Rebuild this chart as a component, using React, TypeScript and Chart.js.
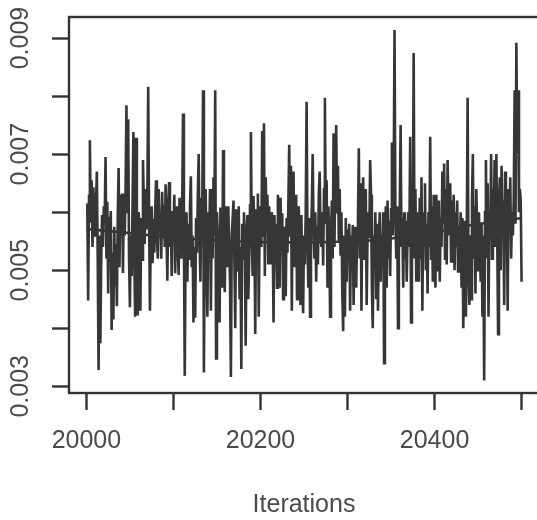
import React, { useEffect, useRef } from "react";
import { Chart, registerables } from "chart.js";

Chart.register(...registerables);

// MCMC trace values (iterations 20001..20500)
const traceValues: number[] = [
  0.00615, 0.00448, 0.00628, 0.00724, 0.00582, 0.00655, 0.0054, 0.00643, 0.00601, 0.0056,
  0.00612, 0.0067, 0.0052, 0.00328, 0.0056, 0.00374, 0.00515, 0.00595, 0.0054, 0.0061,
  0.00585, 0.00695, 0.0052, 0.00618, 0.0046, 0.00592, 0.00548, 0.00602, 0.00397, 0.0053,
  0.00415, 0.00575, 0.00472, 0.00545, 0.00438, 0.0059, 0.00676, 0.00505, 0.0063, 0.0056,
  0.00632, 0.00495, 0.00628, 0.0056, 0.0064, 0.00784, 0.00598, 0.0076, 0.0052, 0.00436,
  0.0056, 0.0049, 0.00612, 0.00738, 0.0052, 0.0042, 0.00728, 0.0055, 0.00422, 0.006,
  0.00575, 0.0043, 0.0059, 0.00518, 0.0069, 0.0061, 0.00545, 0.0064, 0.0057, 0.00625,
  0.00816, 0.0059, 0.0043, 0.00575, 0.0061, 0.00512, 0.00588, 0.0053, 0.006, 0.00655,
  0.0056, 0.0052, 0.0064, 0.00575, 0.00598, 0.0052, 0.00635, 0.0056, 0.00612, 0.0054,
  0.00648, 0.0056, 0.00482, 0.0061, 0.00652, 0.0054, 0.00585, 0.0049, 0.00602, 0.0056,
  0.0063, 0.00495, 0.00575, 0.0061, 0.0054, 0.00492, 0.00625, 0.0056, 0.0052, 0.006,
  0.0077, 0.0056, 0.00318, 0.00545, 0.006, 0.0048, 0.0058, 0.0052, 0.0061, 0.00662,
  0.00505, 0.0056, 0.0041, 0.0054, 0.00418, 0.0059, 0.0053, 0.0063, 0.007, 0.0055,
  0.0048, 0.00625, 0.0057, 0.0081, 0.00324, 0.0058, 0.0064, 0.00515, 0.0042, 0.006,
  0.00545, 0.0064, 0.0043, 0.0059, 0.0052, 0.0066, 0.0056, 0.0081, 0.00348, 0.006,
  0.0056, 0.00525, 0.0041, 0.00608, 0.00545, 0.0047, 0.00707, 0.0056, 0.00462, 0.0061,
  0.0058, 0.00505, 0.0061, 0.0054, 0.0048, 0.00316, 0.0056, 0.0059, 0.0062, 0.0052,
  0.004, 0.00605, 0.0056, 0.00498, 0.0061, 0.0045, 0.0054, 0.0033, 0.0058, 0.0052,
  0.006, 0.00545, 0.0037, 0.0056, 0.00595, 0.0045, 0.0052, 0.00612, 0.00738, 0.0056,
  0.0049, 0.00628, 0.0056, 0.0039, 0.00605, 0.00535, 0.00632, 0.0042, 0.00575, 0.0061,
  0.0054, 0.0074, 0.0056, 0.00753, 0.0049, 0.0066, 0.00585, 0.0063, 0.0051, 0.0061,
  0.0056, 0.0051, 0.006, 0.0056, 0.0041, 0.00595, 0.00528, 0.0058, 0.0047, 0.0063,
  0.00605, 0.0047, 0.00625, 0.0056, 0.00598, 0.0045, 0.00575, 0.0052, 0.00455, 0.0059,
  0.0053, 0.00612, 0.00716, 0.0056, 0.0068, 0.0043, 0.0062, 0.0067, 0.00505, 0.0056,
  0.0063, 0.0045, 0.00575, 0.0061, 0.0052, 0.0044, 0.00595, 0.0048, 0.00426, 0.0056,
  0.0051, 0.006, 0.0079, 0.00548, 0.0047, 0.0059, 0.0042, 0.0056, 0.0061, 0.007,
  0.0056, 0.0052, 0.006, 0.0048, 0.00575, 0.0051, 0.0063, 0.0067, 0.0056, 0.0054,
  0.006, 0.00508, 0.0064, 0.00797, 0.0058, 0.00655, 0.0047, 0.0061, 0.0056, 0.0042,
  0.0056, 0.0062, 0.0052, 0.00736, 0.0054, 0.0068, 0.0075, 0.006, 0.0068, 0.0055,
  0.0064, 0.00525, 0.006, 0.0046, 0.00395, 0.0056, 0.0042, 0.0059, 0.0048, 0.0057,
  0.0052, 0.0058, 0.0043, 0.0056, 0.005, 0.00578, 0.0044, 0.00545, 0.00575, 0.0047,
  0.0056, 0.0059, 0.0071, 0.0052, 0.0065, 0.0043, 0.006, 0.0066, 0.0052, 0.0061,
  0.0064, 0.0044, 0.0056, 0.006, 0.00555, 0.0069, 0.0063, 0.0047, 0.004, 0.0056,
  0.0052, 0.006, 0.0045, 0.0058, 0.0043, 0.00545, 0.006, 0.0048, 0.0056, 0.0052,
  0.006, 0.0034, 0.0056, 0.0061, 0.0047, 0.0062, 0.0052, 0.00585, 0.0049, 0.00605,
  0.0072, 0.0056, 0.0064, 0.00914, 0.006, 0.0052, 0.0061, 0.004, 0.0056, 0.006,
  0.0075, 0.0054, 0.0059, 0.0047, 0.006, 0.0052, 0.00585, 0.0048, 0.0056, 0.006,
  0.0054, 0.0073, 0.0041, 0.006, 0.0056, 0.00874, 0.0052, 0.0064, 0.0048, 0.006,
  0.0056, 0.0048, 0.00625, 0.0052, 0.0066, 0.0043, 0.006, 0.00545, 0.0065, 0.005,
  0.0058, 0.0046, 0.006, 0.0054, 0.0073, 0.0052, 0.0061, 0.0048, 0.0063, 0.0056,
  0.0047, 0.0063, 0.0056, 0.005, 0.0062, 0.0048, 0.0059, 0.0054, 0.0067, 0.0058,
  0.00684, 0.0052, 0.0064, 0.0051, 0.0069, 0.006, 0.0056, 0.0065, 0.00515, 0.0062,
  0.0056, 0.0063, 0.005, 0.006, 0.0054, 0.0062, 0.00498, 0.00575, 0.0054, 0.006,
  0.0047, 0.0059, 0.004, 0.0054, 0.00585, 0.0042, 0.0056, 0.00797, 0.005, 0.0044,
  0.0056, 0.0045, 0.0062, 0.007, 0.0052, 0.0061, 0.0046, 0.0064, 0.0056, 0.005,
  0.006, 0.0054, 0.0048, 0.0058, 0.0042, 0.0056, 0.0031, 0.006, 0.0069, 0.0052,
  0.0065, 0.0042, 0.006, 0.0056, 0.007, 0.0052, 0.0064, 0.0058, 0.0069, 0.0054,
  0.007, 0.0056, 0.0039, 0.0062, 0.0066, 0.005, 0.0068, 0.0056, 0.0062, 0.0044,
  0.0067, 0.0054, 0.006, 0.0043, 0.0064, 0.0058, 0.0066, 0.0052, 0.006, 0.0056,
  0.0062, 0.0081, 0.0058, 0.00892, 0.007, 0.0081, 0.006, 0.0064, 0.0062, 0.0048,
];
const firstIteration = 20001;
const iterations: number[] = traceValues.map((_, i) => firstIteration + i);

// smoothed (lowess-like) trend line
const smoothIterations: number[] = [20000, 20050, 20093, 20135, 20165, 20250, 20307, 20335, 20405, 20443, 20500];
const smoothValues: number[] = [0.00571, 0.00564, 0.00557, 0.00553, 0.0055, 0.00548, 0.0055, 0.00552, 0.00567, 0.00578, 0.0059];

const xTicks: number[] = [20000, 20100, 20200, 20300, 20400, 20500];
const xTickLabels: string[] = ["20000", "", "20200", "", "20400", ""];
const yTicks: number[] = [0.003, 0.004, 0.005, 0.006, 0.007, 0.008, 0.009];
const yTickLabels: string[] = ["0.003", "", "0.005", "", "0.007", "", "0.009"];

const xMin = 19980;
const xMax = 20520;
const yMin = 0.002885;
const yMax = 0.009362;

const INK = "#333333";
const TEXT = "#4a4a4a";
const FONT = "'Liberation Sans', Arial, Helvetica, sans-serif";

const boxPlugin = {
  id: "rBox",
  afterDatasetsDraw(chart: any) {
    const { ctx, chartArea } = chart;
    ctx.save();
    ctx.strokeStyle = INK;
    ctx.lineWidth = 2.4;
    ctx.strokeRect(chartArea.left, chartArea.top, chartArea.right - chartArea.left, chartArea.bottom - chartArea.top);
    ctx.restore();
  },
};

export default function App() {
  const canvasRef = useRef<HTMLCanvasElement | null>(null);

  useEffect(() => {
    document.body.style.margin = "0";
    document.documentElement.style.overflow = "hidden";
    const canvas = canvasRef.current;
    if (!canvas) return;
    const chart = new Chart(canvas, {
      type: "line",
      data: {
        datasets: [
          {
            data: iterations.map((x, i) => ({ x, y: traceValues[i] })),
            borderColor: "#363636",
            borderWidth: 2.6,
            pointRadius: 0,
            tension: 0,
            fill: false,
          },
          {
            data: smoothIterations.map((x, i) => ({ x, y: smoothValues[i] })),
            borderColor: "#363636",
            borderWidth: 2.6,
            pointRadius: 0,
            cubicInterpolationMode: "monotone",
            fill: false,
          },
        ],
      },
      options: {
        responsive: false,
        animation: false,
        devicePixelRatio: 1,
        events: [],
        layout: { padding: { top: 17, right: 6, left: 0, bottom: 0 } },
        plugins: { legend: { display: false }, tooltip: { enabled: false }, title: { display: false } },
        scales: {
          x: {
            type: "linear",
            min: xMin,
            max: xMax,
            afterBuildTicks: (scale: any) => {
              scale.ticks = xTicks.map((v) => ({ value: v }));
            },
            afterFit: (scale: any) => {
              scale.height = 127;
            },
            border: { display: false },
            grid: {
              display: true,
              drawOnChartArea: false,
              drawTicks: true,
              tickLength: 17,
              tickWidth: 2.4,
              tickColor: INK,
            },
            ticks: {
              autoSkip: false,
              maxRotation: 0,
              minRotation: 0,
              padding: 16,
              color: TEXT,
              font: { family: FONT, size: 25 },
              callback: (_v: any, i: number) => xTickLabels[i],
            },
            title: {
              display: true,
              text: "Iterations",
              color: TEXT,
              font: { family: FONT, size: 25 },
              padding: { top: 0, bottom: 0 },
            },
          },
          y: {
            type: "linear",
            min: yMin,
            max: yMax,
            afterBuildTicks: (scale: any) => {
              scale.ticks = yTicks.map((v) => ({ value: v }));
            },
            afterFit: (scale: any) => {
              scale.width = 69;
            },
            border: { display: false },
            grid: {
              display: true,
              drawOnChartArea: false,
              drawTicks: true,
              tickLength: 17,
              tickWidth: 2.4,
              tickColor: INK,
            },
            ticks: {
              autoSkip: false,
              minRotation: 90,
              maxRotation: 90,
              crossAlign: "center",
              padding: 0,
              color: TEXT,
              font: { family: FONT, size: 25 },
              callback: (_v: any, i: number) => yTickLabels[i],
            },
          },
        },
      } as any,
      plugins: [boxPlugin],
    });
    return () => chart.destroy();
  }, []);

  return (
    <div style={{ position: "fixed", left: 0, top: 0, width: 545, height: 520, background: "#fff" }}>
      <canvas ref={canvasRef} width={545} height={520} style={{ display: "block", width: 545, height: 520 }} />
    </div>
  );
}
